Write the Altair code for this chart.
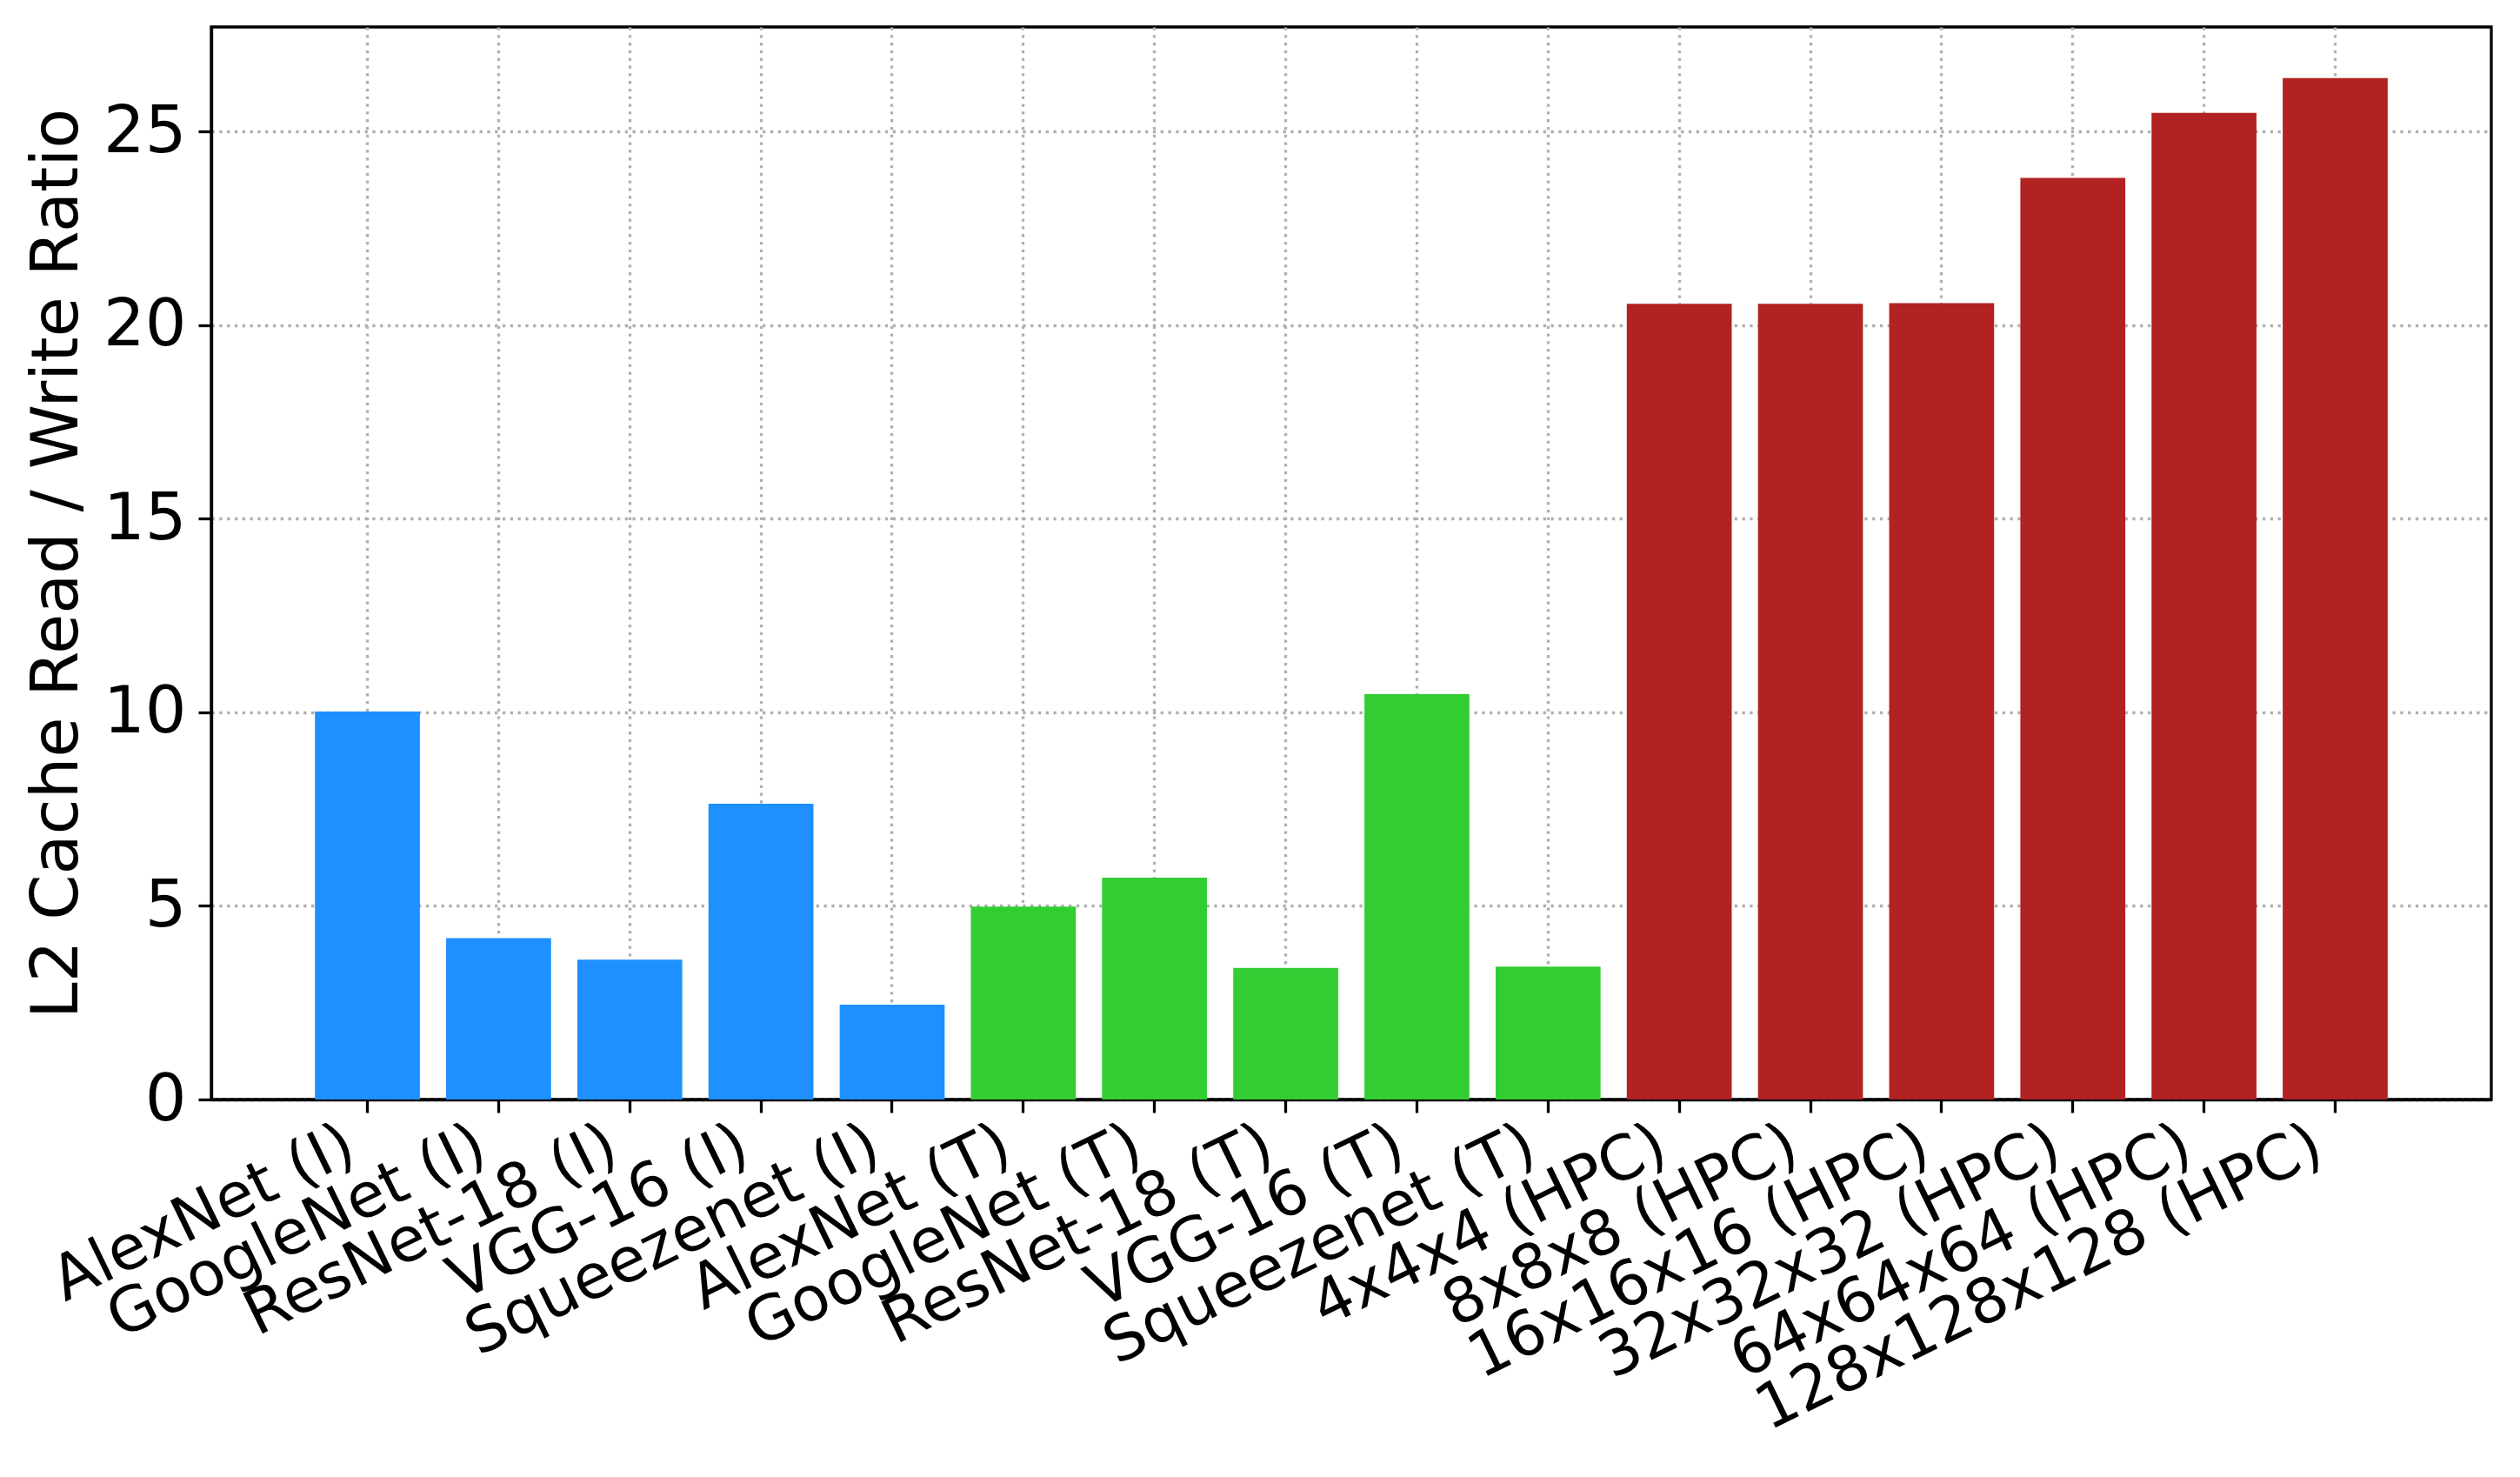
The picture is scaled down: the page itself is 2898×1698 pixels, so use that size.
import altair as alt
import pandas as pd

names = ["AlexNet (I)", "GoogleNet (I)", "ResNet-18 (I)", "VGG-16 (I)", "Squeezenet (I)",
         "AlexNet (T)", "GoogleNet (T)", "ResNet-18 (T)", "VGG-16 (T)", "Squeezenet (T)",
         "4x4x4 (HPC)", "8x8x8 (HPC)", "16x16x16 (HPC)", "32x32x32 (HPC)",
         "64x64x64 (HPC)", "128x128x128 (HPC)"]
values = [10.02, 4.17, 3.61, 7.64, 2.45,
          4.98, 5.73, 3.40, 10.47, 3.43,
          20.55, 20.55, 20.57, 23.80, 25.48, 26.38]
groups = ["I"] * 5 + ["T"] * 5 + ["HPC"] * 6
group_names = ["I", "T", "HPC"]
group_colors = ["#1E90FF", "#32CD32", "#B22222"]
y_ticks = [0, 5, 10, 15, 20, 25]

df = pd.DataFrame({"name": names, "value": values, "group": groups})

FONT = "DejaVu Sans"

chart = alt.Chart(df).mark_bar().encode(
    x=alt.X("name:N", sort=names,
            scale=alt.Scale(paddingInner=0.2, paddingOuter=0.79),
            axis=alt.Axis(title=None, labelAngle=-26, labelAlign="right",
                          labelBaseline="top", labelPadding=2, labelOffset=-34,
                          labelFontSize=71,
                          labelLimit=2000, labelOverlap=False, bandPosition=0.5)),
    y=alt.Y("value:Q", scale=alt.Scale(domain=[0, 27.7], nice=False, zero=True),
            axis=alt.Axis(title="L2 Cache Read / Write Ratio", values=y_ticks,
                          titlePadding=14, labelPadding=14)),
    color=alt.Color("group:N", scale=alt.Scale(domain=group_names, range=group_colors),
                    legend=None),
).properties(
    width=2622, height=1233,
    padding={"left": 20, "top": 23, "right": 20, "bottom": 10},
).configure_view(
    stroke="black", strokeWidth=3.3
).configure_axis(
    labelFont=FONT, titleFont=FONT, labelFontSize=75, titleFontSize=75,
    titleFontWeight="normal", labelColor="black", titleColor="black",
    domainColor="black", domainWidth=3.3, tickColor="black", tickWidth=3.3,
    tickSize=15, grid=True, gridColor="#b0b0b0", gridWidth=3.3,
    gridDash=[3.3, 5.5], zindex=1,
)

chart.save("out.html", embed_options={"renderer": "svg", "actions": False})
